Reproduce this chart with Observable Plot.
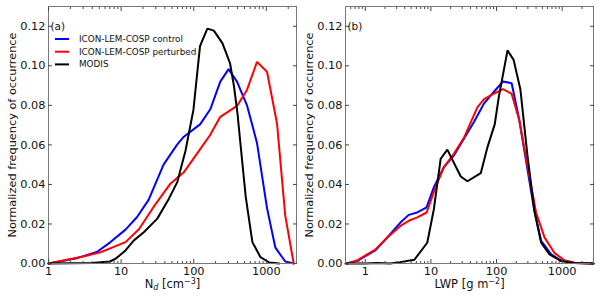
<!DOCTYPE html>
<html><head><meta charset="utf-8">
<script src="https://cdn.jsdelivr.net/npm/d3@7"></script>
<script src="https://cdn.jsdelivr.net/npm/@observablehq/plot@0.6"></script>
<style>
body{margin:0;background:#fff;}
#wrap{position:relative;width:600px;height:298px;display:flex;font-family:"DejaVu Sans",sans-serif;}
</style></head><body><div id="wrap"></div>
<script>
const seriesNames = ["ICON-LEM-COSP control", "ICON-LEM-COSP perturbed", "MODIS"];
const seriesColors = ["#0000ff", "#ff0000", "#000000"];
const panelLabels = ["(a)", "(b)"];
const yLabel = "Normalized frequency of occurrence";
const xLabels = ["Nd [cm⁻³]", "LWP [g m⁻²]"];
const yTicks = [0, 0.02, 0.04, 0.06, 0.08, 0.10, 0.12];
const xTicksMajor = [1, 10, 100, 1000];

// Panel (a): droplet number concentration
const ndControlX = [1, 2.46, 4.63, 7.07, 11.4, 16.5, 23.9, 38.4, 58.7, 72.5, 123, 169, 232, 302, 394, 541, 743, 1021, 1331, 1820, 2380];
const ndControlY = [0, 0.0027, 0.0058, 0.0107, 0.017, 0.0234, 0.0322, 0.050, 0.060, 0.064, 0.0705, 0.078, 0.092, 0.0983, 0.092, 0.080, 0.061, 0.028, 0.008, 0.001, 0];
const ndPerturbX = [1, 1.8, 3, 5.2, 7.5, 11.5, 17.6, 28, 48, 72.5, 118, 168, 232, 394, 541, 743, 1021, 1402, 1820, 2380];
const ndPerturbY = [0, 0.0019, 0.0035, 0.0057, 0.008, 0.0108, 0.0173, 0.0286, 0.0405, 0.046, 0.057, 0.065, 0.0742, 0.0797, 0.0878, 0.102, 0.097, 0.0708, 0.0242, 0];
const ndModisX = [1, 4, 7, 8.4, 11.5, 15, 20.7, 31.5, 45.5, 59.5, 77, 99, 122, 154, 189, 248, 316, 359, 400, 444, 520, 642, 830, 1100, 1500];
const ndModisY = [0, 0.0002, 0.001, 0.0024, 0.0066, 0.0117, 0.0159, 0.0227, 0.0328, 0.0413, 0.057, 0.0777, 0.110, 0.1188, 0.1178, 0.1115, 0.1013, 0.0895, 0.076, 0.059, 0.0337, 0.0108, 0.0032, 0.0005, 0];

// Panel (b): liquid water path
const lwpControlX = [0.525, 0.745, 1.42, 2.15, 3.43, 4.6, 6.2, 8.6, 11.1, 15.8, 22.5, 32, 45.5, 64.6, 92, 126, 170, 222, 298, 377, 478, 680, 966, 1550, 3000];
const lwpControlY = [0, 0.0012, 0.0066, 0.0131, 0.0207, 0.0246, 0.0258, 0.0284, 0.0386, 0.0488, 0.0547, 0.0632, 0.0717, 0.081, 0.087, 0.0921, 0.0912, 0.0726, 0.047, 0.0267, 0.0114, 0.0046, 0.0015, 0.0003, 0];
const lwpPerturbX = [0.525, 0.745, 1.42, 2.15, 3.43, 4.6, 6.2, 8.6, 11.8, 15.8, 22.5, 32, 51, 64.6, 92, 126, 170, 222, 298, 400, 540, 760, 1070, 1550, 3000];
const lwpPerturbY = [0, 0.0015, 0.007, 0.013, 0.019, 0.0216, 0.0233, 0.0258, 0.0386, 0.0488, 0.0556, 0.0637, 0.079, 0.0831, 0.086, 0.0882, 0.0858, 0.0726, 0.0488, 0.0258, 0.0131, 0.0054, 0.0017, 0.0004, 0];
const lwpModisX = [0.5, 1.0, 1.5, 2.4, 3.4, 5.6, 8.8, 11.1, 14.1, 17.8, 28.5, 36, 57.5, 73, 94, 108, 147, 182, 231, 295, 377, 478, 640, 966, 1500, 3000];
const lwpModisY = [0, 0, 0.0003, 0, 0.0007, 0.0019, 0.0105, 0.0275, 0.053, 0.0576, 0.044, 0.0416, 0.0457, 0.059, 0.0705, 0.084, 0.1078, 0.103, 0.088, 0.055, 0.0267, 0.0105, 0.0046, 0.0012, 0.0002, 0];

function table(xs, ys, name) { return xs.map((x, i) => ({x, y: ys[i], series: name})); }

const FONT = "DejaVu Sans";
const TICK = "#444";

function minorTicks(domain) {
  const out = [];
  for (let e = -1; e <= 4; e++) for (let m = 2; m <= 9; m++) {
    const v = m * Math.pow(10, e);
    if (v > domain[0] && v < domain[1]) out.push(v);
  }
  return out;
}

function panel({data, xDomain, marginLeft, marginRight, label, xLabel}) {
  const minors = minorTicks(xDomain);
  const majors = xTicksMajor.filter(v => v >= xDomain[0] && v <= xDomain[1]);
  return Plot.plot({
    width: 300, height: 298,
    marginLeft, marginRight, marginTop: 6, marginBottom: 35,
    style: {fontFamily: FONT, background: "white", overflow: "visible"},
    x: {type: "log", domain: xDomain, label: null},
    y: {domain: [0, 0.13], label: null},
    color: {domain: seriesNames, range: seriesColors},
    marks: [
      Plot.line(data, {x: "x", y: "y", z: "series", stroke: "series", strokeWidth: 2, strokeLinejoin: "miter"}),
      Plot.frame({stroke: "#777"}),
      // inward ticks on all sides
      Plot.axisX(majors, {anchor: "bottom", tickSize: -4, fill: "none", stroke: TICK, label: null}),
      Plot.axisX(majors, {anchor: "top", tickSize: -4, fill: "none", stroke: TICK, label: null}),
      Plot.axisX(minors, {anchor: "bottom", tickSize: -2, fill: "none", stroke: TICK, label: null}),
      Plot.axisX(minors, {anchor: "top", tickSize: -2, fill: "none", stroke: TICK, label: null}),
      Plot.axisY(yTicks, {anchor: "left", tickSize: -4, fill: "none", stroke: TICK, label: null}),
      Plot.axisY(yTicks, {anchor: "right", tickSize: -4, fill: "none", stroke: TICK, label: null}),
      // tick labels
      Plot.axisX(majors, {anchor: "bottom", tickSize: 0, tickPadding: 3, fontSize: 11.3, fill: "#111", tickFormat: d => String(d), label: null}),
      Plot.axisY(yTicks, {anchor: "left", tickSize: 0, tickPadding: 3, fontSize: 11.3, fill: "#111", tickFormat: d3.format(".2f"), label: null}),
      // axis titles
      Plot.text([yLabel], {frameAnchor: "left", rotate: -90, dx: -36, fontSize: 11.3, fill: "#111", textAnchor: "middle"}),
      Plot.text([xLabel], {frameAnchor: "bottom", dy: 24, fontSize: 11.5, fill: "#111", textAnchor: "middle"}),
      Plot.text([label], {frameAnchor: "top-left", dx: 2, dy: 16, fontSize: 10.5, fill: "#111", textAnchor: "start"})
    ]
  });
}

const dataA = [
  ...table(ndControlX, ndControlY, seriesNames[0]),
  ...table(ndPerturbX, ndPerturbY, seriesNames[1]),
  ...table(ndModisX, ndModisY, seriesNames[2])
];
const dataB = [
  ...table(lwpControlX, lwpControlY, seriesNames[0]),
  ...table(lwpPerturbX, lwpPerturbY, seriesNames[1]),
  ...table(lwpModisX, lwpModisY, seriesNames[2])
];

const plotA = panel({data: dataA, xDomain: [1, 2600], marginLeft: 48, marginRight: 4, label: panelLabels[0], xLabel: xLabels[0]});
const plotB = panel({data: dataB, xDomain: [0.5, 3000], marginLeft: 45, marginRight: 7, label: panelLabels[1], xLabel: xLabels[1]});

const wrap = document.getElementById("wrap");
wrap.appendChild(plotA);
wrap.appendChild(plotB);

// rich text for axis titles (subscript / superscript)
function richLabel(svg, plain, parts) {
  d3.select(svg).selectAll("text").filter(function() { return this.textContent === plain; }).each(function() {
    const t = d3.select(this);
    t.text(null);
    parts.forEach(p => {
      const s = t.append("tspan").text(p.t);
      if (p.dy) s.attr("dy", p.dy);
      if (p.size) s.attr("font-size", p.size);
      if (p.italic) s.attr("font-style", "italic");
    });
  });
}
richLabel(plotA, xLabels[0], [
  {t: "N"}, {t: "d", dy: 2.5, size: 8, italic: true}, {t: " [cm", dy: -2.5}, {t: "−3", dy: -4, size: 8}, {t: "]", dy: 4}
]);
richLabel(plotB, xLabels[1], [
  {t: "LWP [g m"}, {t: "−2", dy: -4, size: 8}, {t: "]", dy: 4}
]);

// legend in panel (a)
const lg = d3.select(plotA).append("g").attr("font-family", FONT).attr("font-size", 8.8).attr("text-anchor", "start");
seriesNames.forEach((name, i) => {
  const y = 39 + i * 12.7;
  lg.append("line").attr("x1", 55).attr("x2", 69).attr("y1", y).attr("y2", y)
    .attr("stroke", seriesColors[i]).attr("stroke-width", 2);
  lg.append("text").attr("x", 79).attr("y", y).attr("dy", "0.35em").attr("fill", "#111").attr("text-anchor", "start").text(name);
});
</script></body></html>
